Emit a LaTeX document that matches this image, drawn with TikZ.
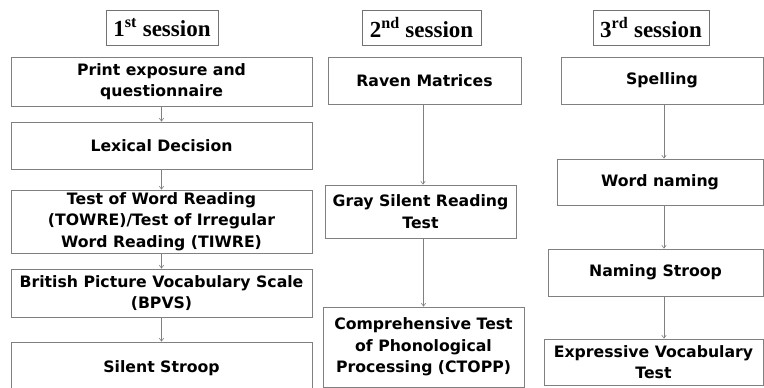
\documentclass[tikz,border=0pt]{standalone}
\usepackage{fontspec}
\setmainfont{DejaVu Sans}
\newfontfamily\hdrfont{Liberation Serif}
\usetikzlibrary{arrows.meta}
\tikzset{
  box/.style={draw=black!50, line width=0.8pt, fill=white, align=center, inner sep=0pt,
    font=\fontsize{15.7}{21.5}\selectfont\bfseries, text=black},
  hdr/.style={draw=black!55, line width=0.8pt, inner sep=0pt, align=center,
    font=\hdrfont\fontsize{23}{25}\selectfont\bfseries},
  arr/.style={draw=black!50, line width=0.6pt, -{Straight Barb[length=3pt,width=4.5pt]}},
}
\begin{document}
\begin{tikzpicture}[x=1pt,y=-1pt]
\useasboundingbox (0,0) rectangle (764,388);
\clip (0,0) rectangle (764,388);
% headers
\node[hdr, minimum width=112pt, minimum height=35pt] (h1) at (162,27.5) {1\textsuperscript{st} session};
\node[hdr, minimum width=119pt, minimum height=35pt] (h2) at (421.5,27.5) {2\textsuperscript{nd} session};
\node[hdr, minimum width=116pt, minimum height=35pt] (h3) at (651,27.5) {3\textsuperscript{rd} session};
% column 1
\node[box, minimum width=301pt, minimum height=49pt] (p) at (161.5,81.5) {Print exposure and\\questionnaire};
\node[box, minimum width=301pt, minimum height=47pt] (l) at (161.5,145.5) {Lexical Decision};
\node[box, minimum width=301pt, minimum height=63pt] (t) at (161.5,221.5) {Test of Word Reading\\(TOWRE)/Test of Irregular\\Word Reading (TIWRE)};
\node[box, minimum width=301pt, minimum height=48pt] (b) at (161.5,293) {British Picture Vocabulary Scale\\(BPVS)};
\node[box, minimum width=301pt, minimum height=52pt] (s) at (161.5,368) {Silent Stroop};
% column 2
\node[box, minimum width=193pt, minimum height=47pt] (r) at (424.5,80.5) {Raven Matrices};
\node[box, minimum width=191pt, minimum height=53pt] (g) at (420.5,211.5) {Gray Silent Reading\\Test};
\node[box, minimum width=201pt, minimum height=80pt] (c) at (423.5,347) {Comprehensive Test\\of Phonological\\Processing (CTOPP)};
% column 3
\node[box, minimum width=202pt, minimum height=47pt] (sp) at (662,80.5) {Spelling};
\node[box, minimum width=206pt, minimum height=46pt] (w) at (660,182) {Word naming};
\node[box, minimum width=215pt, minimum height=47pt] (n) at (655.5,272.5) {Naming Stroop};
\node[box, minimum width=219pt, minimum height=46pt] (e) at (653.5,362) {Expressive Vocabulary\\Test};
% arrows
\draw[arr] (p.south) -- (l.north);
\draw[arr] (l.south) -- (t.north);
\draw[arr] (t.south) -- (b.north);
\draw[arr] (b.south) -- (s.north);
\draw[arr] ([xshift=-1.5pt]r.south) -- ([xshift=-1.5pt]r.south |- g.north);
\draw[arr] (c.north |- g.south) -- (c.north);
\draw[arr] ([xshift=2pt]sp.south) -- ([xshift=2pt]sp.south |- w.north);
\draw[arr] ([xshift=2pt]sp.south |- w.south) -- ([xshift=2pt]sp.south |- n.north);
\draw[arr] ([xshift=2pt]sp.south |- n.south) -- ([xshift=2pt]sp.south |- e.north);
\end{tikzpicture}
\end{document}
